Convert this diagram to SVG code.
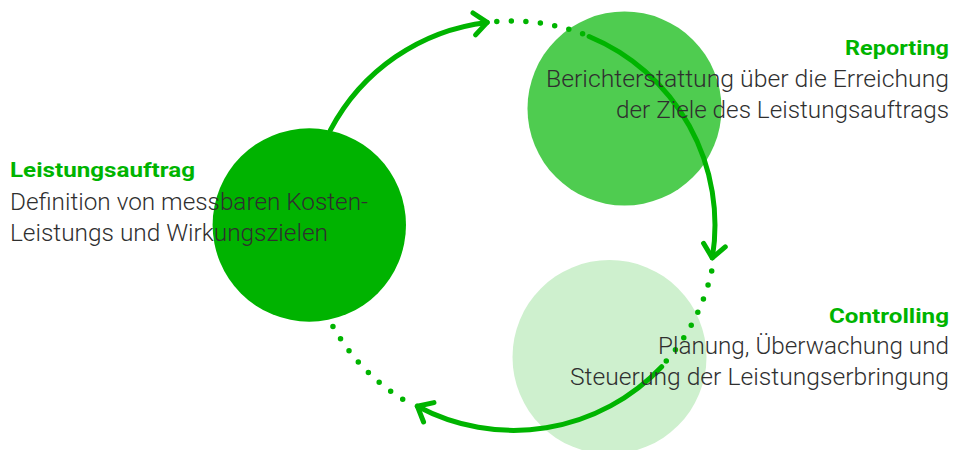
<svg xmlns="http://www.w3.org/2000/svg" width="953" height="450" viewBox="0 0 953 450">
<style>
.arc{fill:none;stroke:#00B400;stroke-width:5;stroke-linecap:round}
.dots{fill:none;stroke:#00B400;stroke-width:5.5;stroke-linecap:round;stroke-dasharray:0 14.55}
.head{font-family:Roboto,"Liberation Sans",sans-serif;font-weight:bold;font-size:20px;fill:#00B400}
.body{font-family:Roboto,"Liberation Sans",sans-serif;font-weight:300;font-size:23px;fill:#2f2f2f}
</style>
<defs>
<marker id="chev" markerUnits="userSpaceOnUse" markerWidth="40" markerHeight="40" refX="0" refY="0" viewBox="-20 -20 40 40" orient="auto" overflow="visible">
<path d="M-13,-11 L0,0 L-13,11" fill="none" stroke="#00B400" stroke-width="5" stroke-linecap="round" stroke-linejoin="round"/>
</marker>
</defs>
<g id="node-controlling-circle"><circle cx="609.5" cy="357" r="97" fill="#CEF0CE"/></g>
<g id="node-reporting-circle"><circle cx="624.5" cy="108.5" r="97" fill="#4FCC50"/></g>
<g id="connectors">
<path class="arc" d="M330.4,130.2 A204,204 0 0 1 487.2,22.4" marker-end="url(#chev)"/>
<path class="dots" d="M496.8,21.5 A204,204 0 0 1 583,34"/>
<path class="arc" d="M589.1,36.5 A204,204 0 0 1 712.3,257.9" marker-end="url(#chev)"/>
<path class="dots" d="M711.7,271 A204,204 0 0 1 665.7,361.7"/>
<path class="arc" d="M661.7,366.7 A204,204 0 0 1 417.3,406.2" marker-end="url(#chev)"/>
<path class="dots" d="M402.7,399.3 A204,204 0 0 1 332.7,326"/>
</g>
<g id="node-leistungsauftrag"><circle cx="309.3" cy="225" r="96.7" fill="#00B300"/>
<text class="head" x="10" y="177" textLength="185" lengthAdjust="spacingAndGlyphs">Leistungsauftrag</text>
<text class="body" x="10" y="210" textLength="358" lengthAdjust="spacingAndGlyphs">Definition von messbaren Kosten-</text>
<text class="body" x="10" y="241" textLength="318" lengthAdjust="spacingAndGlyphs">Leistungs und Wirkungszielen</text>
</g>
<g id="node-reporting">
<text class="head" x="949" y="55" text-anchor="end" textLength="104" lengthAdjust="spacingAndGlyphs">Reporting</text>
<text class="body" x="949" y="87" text-anchor="end" textLength="403" lengthAdjust="spacingAndGlyphs">Berichterstattung über die Erreichung</text>
<text class="body" x="949" y="118" text-anchor="end" textLength="333" lengthAdjust="spacingAndGlyphs">der Ziele des Leistungsauftrags</text>
</g>
<g id="node-controlling">
<text class="head" x="949" y="323" text-anchor="end" textLength="120" lengthAdjust="spacingAndGlyphs">Controlling</text>
<text class="body" x="949" y="354" text-anchor="end" textLength="291" lengthAdjust="spacingAndGlyphs">Planung, Überwachung und</text>
<text class="body" x="949" y="385" text-anchor="end" textLength="379" lengthAdjust="spacingAndGlyphs">Steuerung der Leistungserbringung</text>
</g>
</svg>
